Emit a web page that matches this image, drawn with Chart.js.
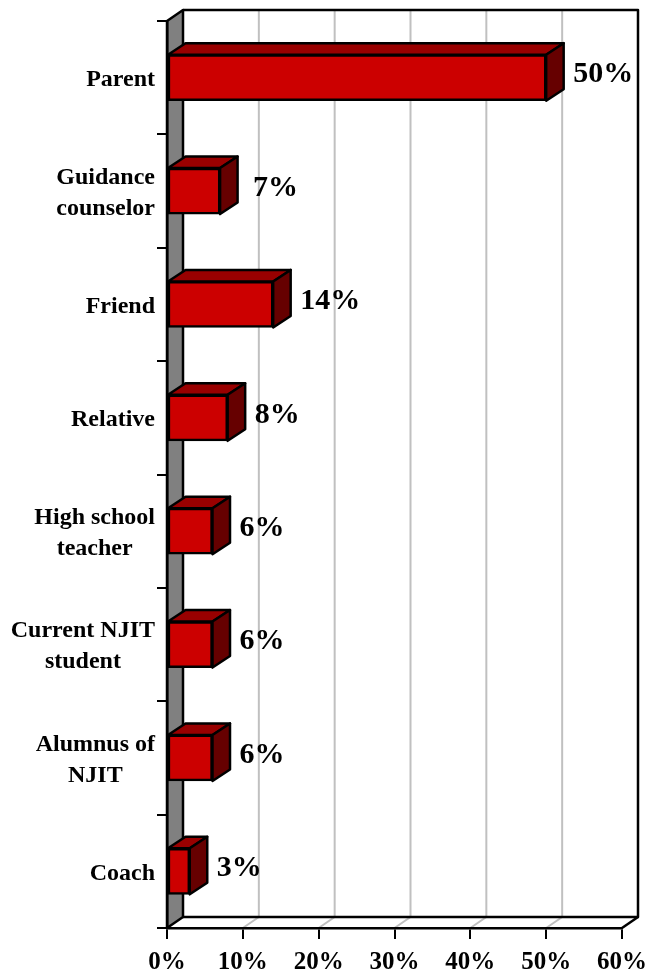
<!DOCTYPE html>
<html>
<head>
<meta charset="utf-8">
<style>
  html, body { margin: 0; padding: 0; background: #fff; }
  canvas { display: block; }
</style>
<script src="https://cdn.jsdelivr.net/npm/chart.js@4"></script>
</head>
<body>
<canvas id="sourceChart" width="648" height="973"></canvas>
<script>
const categories = [
  ['Parent'],
  ['Guidance', 'counselor'],
  ['Friend'],
  ['Relative'],
  ['High school', 'teacher'],
  ['Current NJIT', 'student'],
  ['Alumnus of', 'NJIT'],
  ['Coach']
];
const percentValues = [50, 7, 14, 8, 6, 6, 6, 3];
const percentTicks = [0, 10, 20, 30, 40, 50, 60];

const FONT = '"Liberation Serif", "Times New Roman", serif';
const WALL_DX = 16, WALL_DY = 11;
const BAR_DX = 17.5, BAR_DY = 11.5;

function strokePath(ctx, points, color, width) {
  ctx.beginPath();
  points.forEach((p, i) => i ? ctx.lineTo(p[0], p[1]) : ctx.moveTo(p[0], p[1]));
  ctx.strokeStyle = color;
  ctx.lineWidth = width;
  ctx.stroke();
}

function fillFace(ctx, points, color) {
  ctx.beginPath();
  points.forEach((p, i) => i ? ctx.lineTo(p[0], p[1]) : ctx.moveTo(p[0], p[1]));
  ctx.closePath();
  ctx.fillStyle = color;
  ctx.fill();
  ctx.strokeStyle = '#000';
  ctx.lineWidth = 2.5;
  ctx.lineJoin = 'round';
  ctx.stroke();
}

// Fond 3D : mur gauche, grille du fond et sol
const backdrop3d = {
  id: 'backdrop3d',
  beforeDraw(chart) {
    const { ctx, chartArea: a, scales: { x } } = chart;
    ctx.save();
    ctx.fillStyle = '#fff';
    ctx.fillRect(0, 0, chart.width, chart.height);

    percentTicks.slice(1, -1).forEach(t => {
      const px = x.getPixelForValue(t);
      strokePath(ctx, [[px, a.bottom], [px + WALL_DX, a.bottom - WALL_DY], [px + WALL_DX, a.top - WALL_DY]], '#c0c0c0', 2);
    });

    fillFace(ctx, [
      [a.left, a.top],
      [a.left + WALL_DX, a.top - WALL_DY],
      [a.left + WALL_DX, a.bottom - WALL_DY],
      [a.left, a.bottom]
    ], '#808080');

    strokePath(ctx, [
      [a.left + WALL_DX, a.bottom - WALL_DY],
      [a.right + WALL_DX, a.bottom - WALL_DY],
      [a.right + WALL_DX, a.top - WALL_DY],
      [a.left + WALL_DX, a.top - WALL_DY]
    ], '#000', 2.5);
    strokePath(ctx, [[a.right, a.bottom], [a.right + WALL_DX, a.bottom - WALL_DY]], '#000', 2.5);
    ctx.restore();
  }
};

// Faces du dessus et de côté, valeurs et noms des catégories
const bars3d = {
  id: 'bars3d',
  afterDatasetsDraw(chart) {
    const { ctx, scales: { y } } = chart;
    const bars = chart.getDatasetMeta(0).data;
    ctx.save();
    bars.forEach((bar, i) => {
      const top = bar.y - bar.height / 2;
      const bottom = bar.y + bar.height / 2;
      fillFace(ctx, [
        [bar.base, top],
        [bar.base + BAR_DX, top - BAR_DY],
        [bar.x + BAR_DX, top - BAR_DY],
        [bar.x, top]
      ], '#990000');
      fillFace(ctx, [
        [bar.x, top],
        [bar.x + BAR_DX, top - BAR_DY],
        [bar.x + BAR_DX, bottom - BAR_DY],
        [bar.x, bottom]
      ], '#660000');

      ctx.fillStyle = '#000';
      ctx.font = 'bold 30px ' + FONT;
      ctx.textAlign = 'left';
      ctx.textBaseline = 'middle';
      ctx.fillText(percentValues[i] + '%', bar.x + (i === 1 ? 33 : 27), bar.y - 3);
    });

    ctx.font = 'bold 24px ' + FONT;
    ctx.fillStyle = '#000';
    ctx.textBaseline = 'middle';
    ctx.textAlign = 'center';
    categories.forEach((lines, i) => {
      const cy = y.getPixelForTick(i);
      const widest = Math.max(...lines.map(l => ctx.measureText(l).width));
      lines.forEach((line, j) => {
        ctx.fillText(line, 155 - widest / 2, cy + 2 + (j - (lines.length - 1) / 2) * 31);
      });
    });
    ctx.restore();
  }
};

new Chart(document.getElementById('sourceChart'), {
  type: 'bar',
  data: {
    labels: categories,
    datasets: [{
      data: percentValues,
      backgroundColor: '#cc0000',
      borderColor: '#000',
      borderWidth: 2.5,
      borderSkipped: false,
      barThickness: 46
    }]
  },
  plugins: [backdrop3d, bars3d],
  options: {
    indexAxis: 'y',
    responsive: false,
    animation: false,
    layout: { padding: { top: 21, right: 26, left: 0, bottom: 0 } },
    plugins: { legend: { display: false }, tooltip: { enabled: false } },
    scales: {
      x: {
        min: 0,
        max: 60,
        afterFit: s => { s.height = 45; s.paddingRight = 0; s.paddingLeft = 0; },
        afterBuildTicks: s => { s.ticks = percentTicks.map(value => ({ value })); },
        grid: { drawOnChartArea: false, color: '#000', lineWidth: 2, tickLength: 11 },
        border: { color: '#000', width: 2.5 },
        ticks: {
          color: '#000',
          padding: 9,
          maxRotation: 0,
          autoSkip: false,
          font: { family: FONT, weight: 'bold', size: 25 },
          callback: v => v + '%'
        }
      },
      y: {
        afterFit: s => { s.width = 167; },
        grid: { offset: true, drawOnChartArea: false, color: '#000', lineWidth: 2, tickLength: 10 },
        border: { color: '#000', width: 2.5 },
        ticks: { display: false }
      }
    }
  }
});
</script>
</body>
</html>
